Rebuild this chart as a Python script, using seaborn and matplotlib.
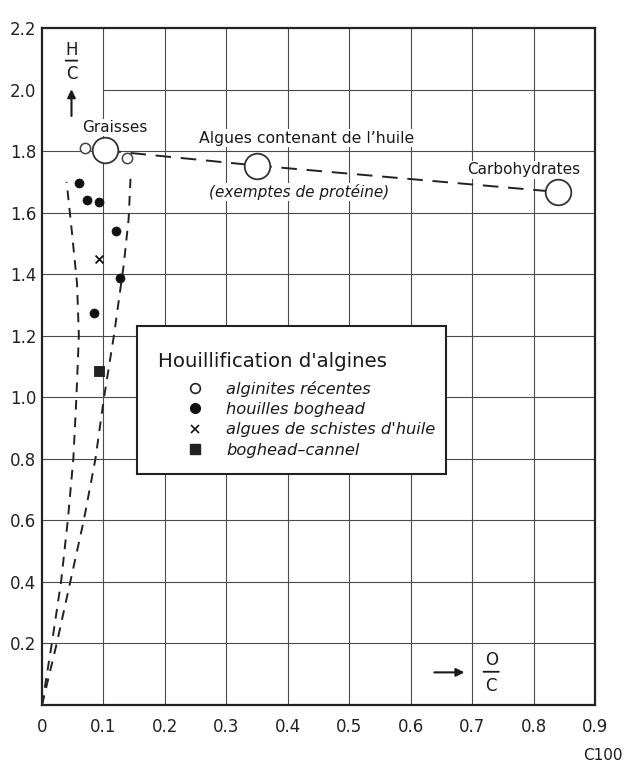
import matplotlib
matplotlib.use("Agg")
import matplotlib.pyplot as plt
import seaborn as sns
import pandas as pd
import numpy as np
from matplotlib.patches import Rectangle
from matplotlib.lines import Line2D

sns.set_theme(style="white")
plt.rcParams['font.family'] = ['DejaVu Sans']

# ---------------- data ----------------
recent_x = [0.070, 0.103, 0.139, 0.350, 0.840]
recent_y = [1.811, 1.802, 1.777, 1.753, 1.667]
recent_big = [False, True, False, True, True]

boghead_x = [0.060, 0.073, 0.092, 0.121, 0.127, 0.085]
boghead_y = [1.696, 1.642, 1.633, 1.540, 1.389, 1.275]

schist_x = [0.092]
schist_y = [1.450]

cannel_x = [0.092]
cannel_y = [1.085]

trend_x = [0.103, 0.350, 0.840]
trend_y = [1.802, 1.753, 1.667]

left_env_x = [0.0, 0.016, 0.031, 0.042, 0.051, 0.056, 0.060, 0.057, 0.048, 0.040]
left_env_y = [0.0, 0.2, 0.4, 0.6, 0.8, 1.0, 1.2, 1.37, 1.55, 1.70]
right_env_x = [0.0, 0.024, 0.046, 0.068, 0.087, 0.101, 0.117, 0.133, 0.141, 0.144]
right_env_y = [0.0, 0.2, 0.4, 0.6, 0.8, 1.0, 1.2, 1.43, 1.58, 1.71]

x_ticks = [0.0, 0.1, 0.2, 0.3, 0.4, 0.5, 0.6, 0.7, 0.8, 0.9]
x_ticklabels = ['0', '0.1', '0.2', '0.3', '0.4', '0.5', '0.6', '0.7', '0.8', '0.9']
y_ticks = [0.2, 0.4, 0.6, 0.8, 1.0, 1.2, 1.4, 1.6, 1.8, 2.0, 2.2]
y_ticklabels = ['0.2', '0.4', '0.6', '0.8', '1.0', '1.2', '1.4', '1.6', '1.8', '2.0', '2.2']

legend_title = "Houillification d'algines"
legend_labels = ["alginites récentes", "houilles boghead",
                 "algues de schistes d'huile", "boghead\u2013cannel"]

# ---------------- figure ----------------
fig = plt.figure(figsize=(6.27, 7.63), dpi=100)
ax = fig.add_axes([42/627, 1-705/763, (595-42)/627, (705-28)/763])
ax.set_xlim(0, 0.9)
ax.set_ylim(0, 2.2)

gcol = '#4a4a4a'
for xv in x_ticks[1:-1]:
    ax.axvline(xv, color=gcol, lw=0.8, zorder=0)
for yv in y_ticks[:-1]:
    if abs(yv - 2.0) < 1e-9:
        ax.axhline(yv, xmin=0.1/0.9, xmax=1, color=gcol, lw=0.8, zorder=0)
    else:
        ax.axhline(yv, color=gcol, lw=0.8, zorder=0)

for s in ax.spines.values():
    s.set_color('#222222')
    s.set_linewidth(1.6)

ax.set_xticks(x_ticks)
ax.set_xticklabels(x_ticklabels)
ax.set_yticks(y_ticks)
ax.set_yticklabels(y_ticklabels)
ax.tick_params(axis='x', length=0, pad=9, labelsize=12, colors='#222222')
ax.tick_params(axis='y', length=0, pad=4, labelsize=12, colors='#222222')

# envelope dashed curves and trend line
for xs, ys, pat in [(left_env_x, left_env_y, (5, 4)),
                    (right_env_x, right_env_y, (5, 4)),
                    (trend_x, trend_y, (8, 5))]:
    ax.plot(xs, ys, color='#222222', lw=1.4, linestyle=(0, pat), zorder=2)

# points
rx_big = [x for x, b in zip(recent_x, recent_big) if b]
ry_big = [y for y, b in zip(recent_y, recent_big) if b]
rx_small = [x for x, b in zip(recent_x, recent_big) if not b]
ry_small = [y for y, b in zip(recent_y, recent_big) if not b]
sns.scatterplot(x=rx_big, y=ry_big, ax=ax, s=340, marker='o', facecolor='white',
                edgecolor='#333333', linewidth=1.3, zorder=4)
sns.scatterplot(x=rx_small, y=ry_small, ax=ax, s=55, marker='o', facecolor='white',
                edgecolor='#444444', linewidth=1.1, zorder=4)
sns.scatterplot(x=boghead_x, y=boghead_y, ax=ax, s=42, marker='o', color='#111111',
                edgecolor='#111111', zorder=4)
sns.scatterplot(x=schist_x, y=schist_y, ax=ax, s=32, marker='x', color='#111111',
                linewidth=1.3, zorder=4)
sns.scatterplot(x=cannel_x, y=cannel_y, ax=ax, s=60, marker='s', color='#222222',
                edgecolor='#222222', zorder=4)
ax.set_xlabel('')
ax.set_ylabel('')

# annotations
wb = dict(facecolor='white', edgecolor='none', pad=1.0)
tc = '#1a1a1a'
ax.text(0.119, 1.877, 'Graisses', ha='center', va='center', fontsize=11, color=tc, bbox=wb, zorder=3)
ax.text(0.431, 1.842, "Algues contenant de l\u2019huile", ha='center', va='center', fontsize=11.3,
        color=tc, bbox=wb, zorder=3)
ax.text(0.418, 1.667, '(exemptes de protéine)', ha='center', va='center', fontsize=11,
        style='italic', color=tc, bbox=wb, zorder=3)
ax.text(0.784, 1.739, 'Carbohydrates', ha='center', va='center', fontsize=11, color=tc,
        bbox=wb, zorder=3)

# H/C label
ax.text(0.048, 2.128, 'H', ha='center', va='center', fontsize=12, color=tc)
ax.annotate('', xy=(0.062, 2.094), xytext=(0.034, 2.094),
            arrowprops=dict(arrowstyle='-', lw=1.3, color=tc))
ax.text(0.048, 2.052, 'C', ha='center', va='center', fontsize=12, color=tc)
ax.annotate('', xy=(0.048, 2.010), xytext=(0.048, 1.905),
            arrowprops=dict(arrowstyle='-|>', lw=1.5, color=tc, mutation_scale=12))

# O/C label
ax.text(0.731, 0.146, 'O', ha='center', va='center', fontsize=12, color=tc)
ax.annotate('', xy=(0.748, 0.108), xytext=(0.714, 0.108),
            arrowprops=dict(arrowstyle='-', lw=1.3, color=tc))
ax.text(0.731, 0.062, 'C', ha='center', va='center', fontsize=12, color=tc)
ax.annotate('', xy=(0.692, 0.106), xytext=(0.634, 0.106),
            arrowprops=dict(arrowstyle='-|>', lw=1.5, color=tc, mutation_scale=12))

# legend box
ax.add_patch(Rectangle((0.155, 0.752), 0.502, 0.479, facecolor='white',
                       edgecolor='#222222', lw=1.5, zorder=5))
ax.text(0.189, 1.117, legend_title, ha='left', va='center', fontsize=14.2, color=tc, zorder=6)
handles = [
    Line2D([], [], marker='o', linestyle='none', markersize=7, markerfacecolor='white',
           markeredgecolor='#222222', markeredgewidth=1.2),
    Line2D([], [], marker='o', linestyle='none', markersize=7, color='#111111'),
    Line2D([], [], marker='x', linestyle='none', markersize=5.5, color='#111111', markeredgewidth=1.2),
    Line2D([], [], marker='s', linestyle='none', markersize=6.5, color='#222222'),
]
leg = ax.legend(handles, legend_labels, loc='upper left', bbox_to_anchor=(0.2385, 1.054),
                bbox_transform=ax.transData, frameon=False, handlelength=0.85,
                handletextpad=1.45, borderpad=0, borderaxespad=0, labelspacing=0.33,
                prop=dict(size=11.7, style='italic'))
leg.set_zorder(7)
for t in leg.get_texts():
    t.set_color(tc)

fig.text(603/627, 1-755/763, 'C100', ha='center', va='center', fontsize=11, color=tc)

fig.savefig('out.png', dpi=100, facecolor='white')
